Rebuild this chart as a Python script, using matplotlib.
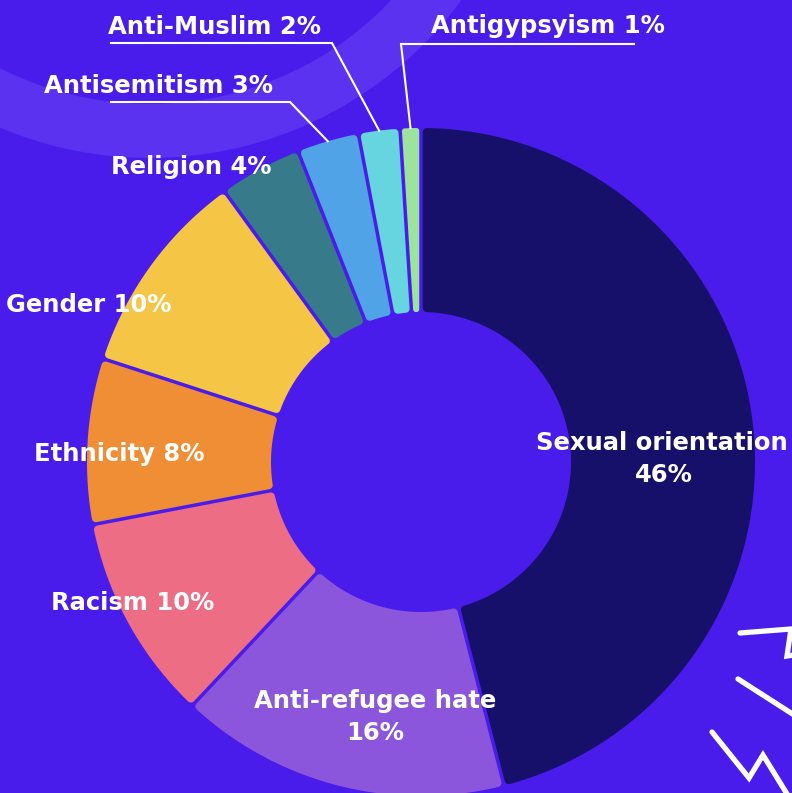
import matplotlib
matplotlib.use("Agg")
import matplotlib.pyplot as plt
from matplotlib.patches import Wedge, Polygon
import numpy as np

# ---------------- data ----------------
categories = ["Sexual orientation", "Anti-refugee hate", "Racism", "Ethnicity",
              "Gender", "Religion", "Antisemitism", "Anti-Muslim", "Antigypsyism"]
values = [46, 16, 10, 8, 10, 4, 3, 2, 1]
colors = ["#16106B", "#8B56DB", "#EC6D84", "#EF8E35", "#F5C545",
          "#377A8A", "#4FA3E6", "#66D5E0", "#9CE39D"]

# ---------------- layout (pixel space) ----------------
W, H = 792, 793
BG = "#491CEB"
BAND = "#5A32F0"
CX, CY = 421, 462
R_OUT, R_IN = 334, 150
GAP = 3.5          # px gap between slices
CORNER = 4.0       # px corner rounding
FS = 17.5
PX2PT = 0.72


def py(y):
    return H - y


# label layout: (x_center, baseline_y) per line, pixel coords
label_layout = {
    "Sexual orientation": [(662, 450), (664, 482)],
    "Anti-refugee hate": [(375, 708), (375, 740)],
    "Racism": [(133, 610)],
    "Ethnicity": [(119, 461)],
    "Gender": [(89, 312)],
    "Religion": [(191, 174)],
    "Antisemitism": [(159, 93)],
    "Anti-Muslim": [(215, 34)],
    "Antigypsyism": [(548, 33)],
}
two_line = {"Sexual orientation", "Anti-refugee hate"}

# leader layout: (far_x, elbow_x, y)
leader_layout = {
    "Antisemitism": (111, 290, 102),
    "Anti-Muslim": (111, 332, 43),
    "Antigypsyism": (634, 401, 44),
}

fig = plt.figure(figsize=(W / 100, H / 100), dpi=100, facecolor=BG)
ax = fig.add_axes([0, 0, 1, 1])
ax.set_facecolor(BG)

# decorative band top-left
ax.add_patch(Wedge((150, py(-228)), 386, 180, 360, width=54,
                   facecolor=BAND, edgecolor="none", zorder=0))

wedges, _ = ax.pie(values, colors=colors, startangle=90, counterclock=False,
                   radius=R_OUT, center=(CX, py(CY)),
                   wedgeprops=dict(width=R_OUT - R_IN, edgecolor=BG,
                                   linewidth=GAP * PX2PT))


def rounded_slice(w):
    """Slice outline with constant gap and rounded corners, from pie wedge."""
    a1, a2 = np.deg2rad(w.theta1), np.deg2rad(w.theta2)
    cx, cy = w.center
    ro_full = w.r
    ri_full = w.r - w.width
    span_in = ri_full * (a2 - a1) / 2 - GAP / 2
    c = max(0.5, min(CORNER, span_in * 0.9))
    d = GAP / 2 + c
    ro, ri = ro_full - c, ri_full + c
    off_o = np.arctan2(d, np.sqrt(ro ** 2 - d ** 2))
    off_i = np.arctan2(d, np.sqrt(ri ** 2 - d ** 2))
    ang_o = np.linspace(a1 + off_o, a2 - off_o, 200)
    ang_i = np.linspace(a2 - off_i, a1 + off_i, 100)
    xs = np.concatenate([cx + ro * np.cos(ang_o), cx + ri * np.cos(ang_i)])
    ys = np.concatenate([cy + ro * np.sin(ang_o), cy + ri * np.sin(ang_i)])
    return np.column_stack([xs, ys]), c


for w in wedges:
    verts, c = rounded_slice(w)
    fc = w.get_facecolor()
    w.set_visible(False)
    ax.add_patch(Polygon(verts, closed=True, facecolor=fc, edgecolor=fc,
                         linewidth=2 * c * PX2PT, joinstyle="round", zorder=2))

# labels
for cat, val, w in zip(categories, values, wedges):
    pos = label_layout[cat]
    if cat in two_line:
        lines = [cat, f"{val}%"]
    else:
        lines = [f"{cat} {val}%"]
    for txt, (x, y) in zip(lines, pos):
        ax.text(x, py(y), txt, ha="center", va="baseline", color="white",
                fontsize=FS, fontweight="bold", family="DejaVu Sans", zorder=5)
    if cat in leader_layout:
        fx, ex, ly = leader_layout[cat]
        mid = np.deg2rad((w.theta1 + w.theta2) / 2)
        tx = CX + R_OUT * np.cos(mid)
        ty = py(CY) + R_OUT * np.sin(mid)
        ax.plot([fx, ex, tx], [py(ly), py(ly), ty], color="white", lw=1.5,
                solid_joinstyle="miter", zorder=4)

# decorative zigzags bottom-right
zig = [
    [(740, 633), (791, 629), (787, 656), (800, 654)],
    [(738, 679), (805, 722)],
    [(712, 732), (749, 778), (763, 755), (800, 815)],
]
for seg in zig:
    xs = [p[0] for p in seg]
    ys = [py(p[1]) for p in seg]
    ax.plot(xs, ys, color="white", lw=3.8, solid_capstyle="round",
            solid_joinstyle="miter", zorder=3)

ax.set_xlim(0, W)
ax.set_ylim(0, H)
ax.set_aspect("auto")
ax.axis("off")

fig.savefig("out.png", dpi=100, facecolor=BG)
